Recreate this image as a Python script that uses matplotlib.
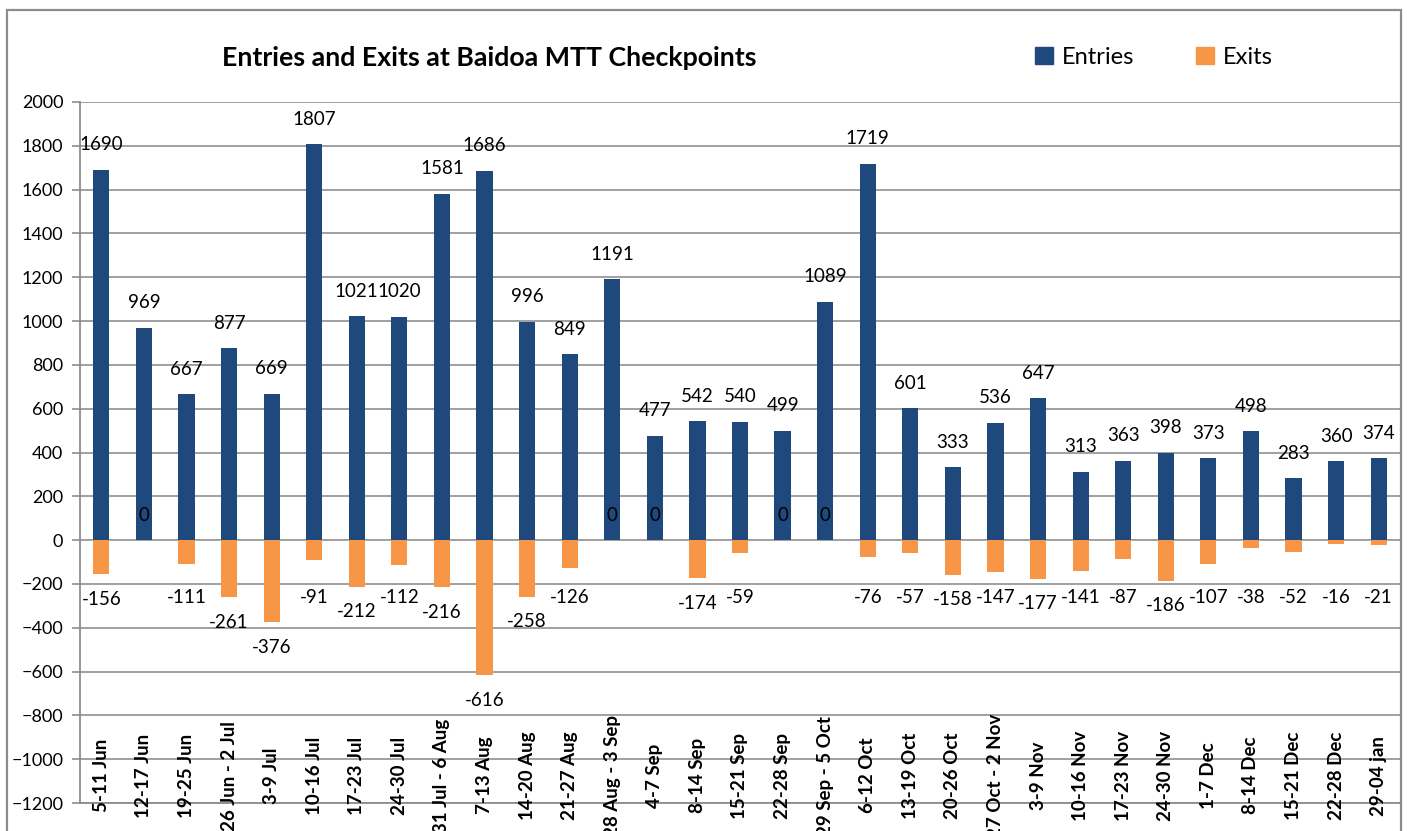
import numpy as np
import matplotlib.pyplot as plt
from matplotlib.patches import Rectangle, Patch
from matplotlib.transforms import offset_copy

plt.rcParams['font.family'] = ['Lato', 'DejaVu Sans']

# weekly periods
weeks = ['5-11 Jun', '12-17 Jun', '19-25 Jun', '26 Jun - 2 Jul', '3-9 Jul',
         '10-16 Jul', '17-23 Jul', '24-30 Jul', '31 Jul - 6 Aug', '7-13 Aug',
         '14-20 Aug', '21-27 Aug', '28 Aug - 3 Sep', '4-7 Sep', '8-14 Sep',
         '15-21 Sep', '22-28 Sep', '29 Sep - 5 Oct', '6-12 Oct', '13-19 Oct',
         '20-26 Oct', '27 Oct - 2 Nov', '3-9 Nov', '10-16 Nov', '17-23 Nov',
         '24-30 Nov', '1-7 Dec', '8-14 Dec', '15-21 Dec', '22-28 Dec', '29-04 jan']
entries = [1690, 969, 667, 877, 669, 1807, 1021, 1020, 1581, 1686,
           996, 849, 1191, 477, 542, 540, 499, 1089, 1719, 601,
           333, 536, 647, 313, 363, 398, 373, 498, 283, 360, 374]
exits = [-156, 0, -111, -261, -376, -91, -212, -112, -216, -616,
         -258, -126, 0, 0, -174, -59, 0, 0, -76, -57,
         -158, -147, -177, -141, -87, -186, -107, -38, -52, -16, -21]

W, H = 1407, 831
fig = plt.figure(figsize=(W / 100, H / 100), dpi=100, facecolor='white')
ax = fig.add_axes([80 / W, (H - 803) / H, (1400 - 80) / W, (803 - 102) / H])

# outer chart border
fig.patches.append(Rectangle((7 / W, -0.1), (1401 - 7) / W, 1.1 - 10 / H,
                             transform=fig.transFigure, fill=False,
                             edgecolor='#8c8c8c', lw=1.6, zorder=0))

x = np.arange(len(weeks))
blue, orange = '#1F497D', '#F79646'
ax.bar(x, entries, width=0.38, color=blue, zorder=2)
ax.bar(x, exits, width=0.38, color=orange, zorder=2)

fs = 13.5
ax.set_xlim(-0.5, len(weeks) - 0.5)
ax.set_ylim(-1200, 2000)
ax.set_yticks(np.arange(-1200, 2001, 200))
ax.tick_params(axis='y', labelsize=13, length=6, width=1.2, color='#8c8c8c', pad=6)
ax.set_xticks([])
ax.grid(axis='y', color='#999999', lw=1.3, zorder=0)
ax.set_axisbelow(True)
for s in ('top', 'right'):
    ax.spines[s].set_visible(False)
for s in ('left', 'bottom'):
    ax.spines[s].set_color('#8c8c8c')
    ax.spines[s].set_linewidth(1.3)

# value labels
up = offset_copy(ax.transData, fig=fig, y=25, units='dots')
down = offset_copy(ax.transData, fig=fig, y=-25, units='dots')
for i, v in enumerate(entries):
    ax.text(i, v, str(v), transform=up, ha='center', va='center', fontsize=fs, zorder=3)
for i, v in enumerate(exits):
    if v == 0:
        ax.text(i, 0, '0', transform=up, ha='center', va='center', fontsize=fs, zorder=3)
    else:
        ax.text(i, min(v, -150), str(v), transform=down, ha='center', va='center',
                fontsize=fs, zorder=3)

# category labels sit inside the lower part of the plot
for i, w in enumerate(weeks):
    ax.text(i, -1075, w, rotation=90, ha='center', va='center', fontsize=fs,
            fontweight='bold', clip_on=False, zorder=3)

fig.text(489 / W, 1 - 58 / H, 'Entries and Exits at Baidoa MTT Checkpoints',
         ha='center', va='center', fontsize=19.3, fontweight='bold')

handles = [Patch(color=blue, label='Entries'), Patch(color=orange, label='Exits')]
fig.legend(handles=handles, loc='center', bbox_to_anchor=(1154 / W, 1 - 57 / H),
           ncol=2, frameon=False, fontsize=17, handlelength=0.75, handleheight=0.75,
           handletextpad=0.4, columnspacing=2.6)

fig.savefig('out.png', dpi=100)
